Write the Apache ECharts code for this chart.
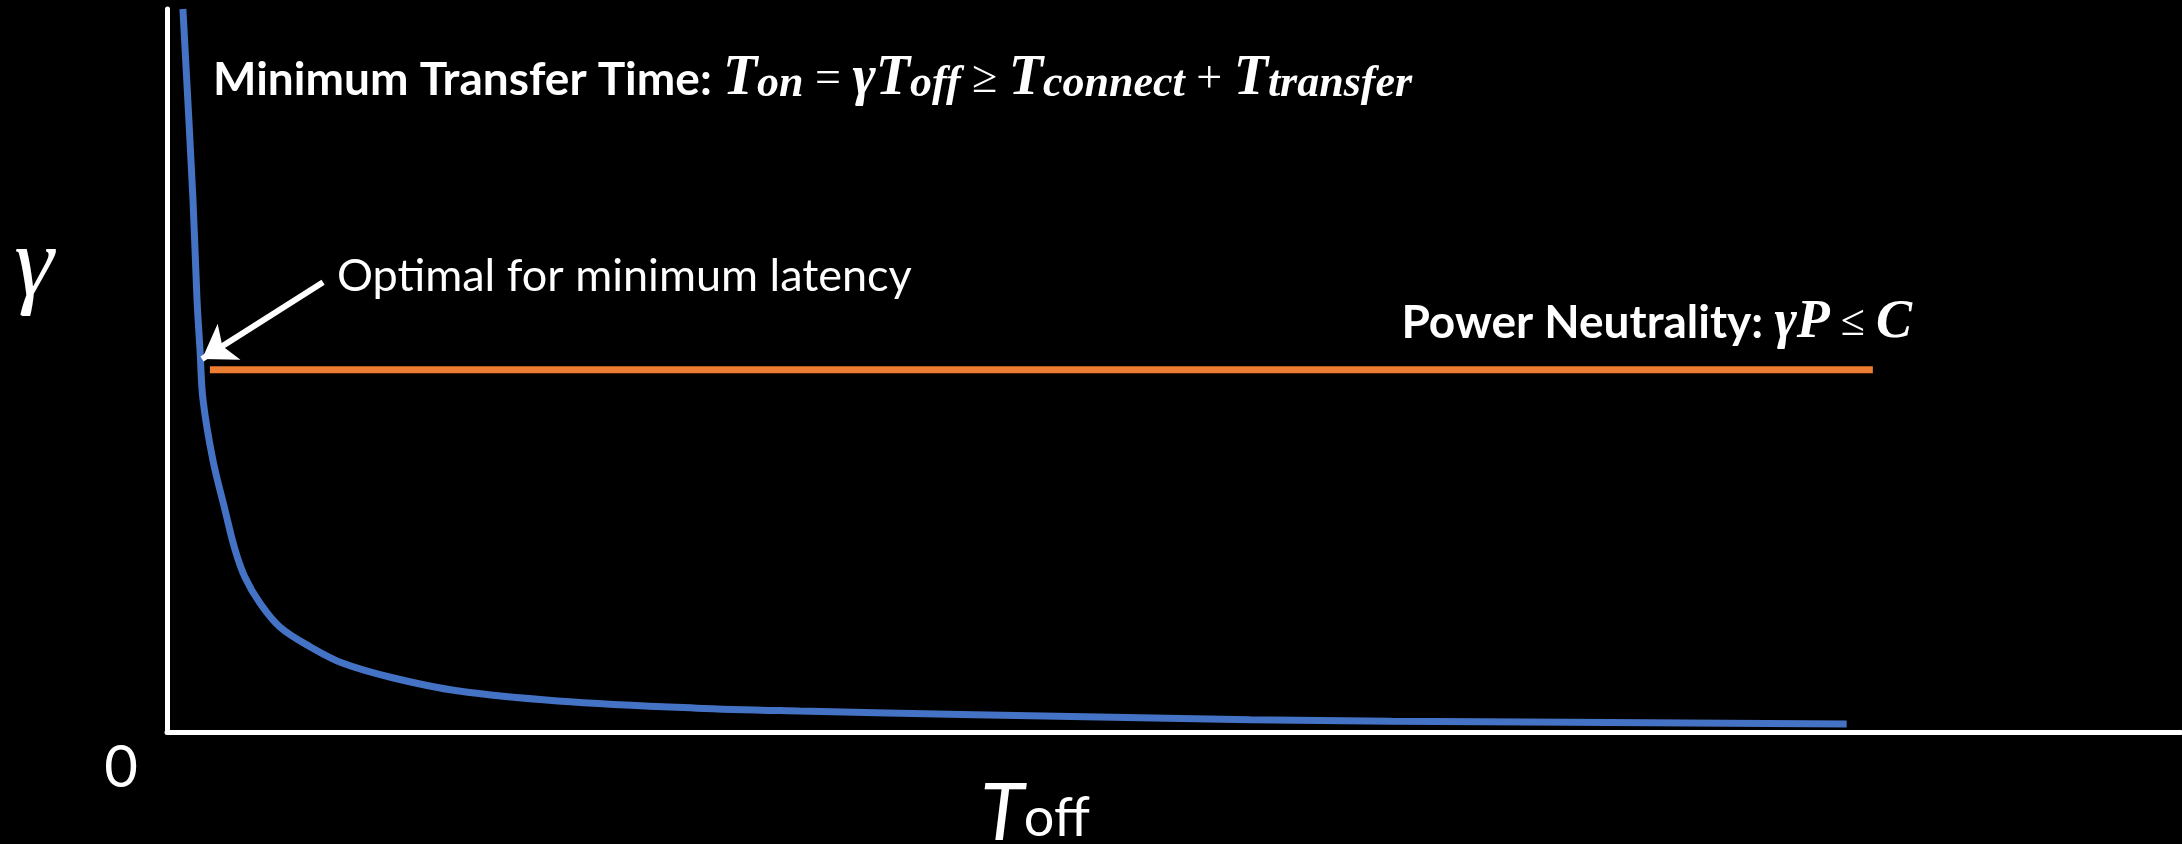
<!DOCTYPE html>
<html>
<head>
<meta charset="utf-8">
<script src="https://cdn.jsdelivr.net/npm/echarts@6/dist/echarts.min.js"></script>
<style>
  html, body { margin: 0; padding: 0; background: #000; }
  #chart { width: 2182px; height: 844px; }
</style>
</head>
<body>
<div id="chart"></div>
<script>
// ---- data ----
const curveToff = [0.79, 1.29, 1.49, 1.64, 1.79, 2.28, 2.88, 3.38, 3.87, 4.62, 5.61, 7.10, 8.74, 11.2, 14.4, 19.4, 26.3, 31.4, 40.1, 53.8, 60.8, 83.4];
const curveGamma = [100, 73.6, 59.8, 52.8, 45.9, 37.6, 30.7, 25.2, 21.4, 17.8, 14.5, 11.8, 9.5, 7.5, 5.7, 4.3, 3.3, 2.9, 2.4, 1.7, 1.5, 1.1];
const powerToff = [2.13, 84.7];
const powerGamma = [50.1, 50.1];
const tickLabels = ['0'];
const annotationText = 'Optimal for minimum latency';
const xAxisName = ['T', 'off'];
const yAxisName = 'γ';

const curveData = curveToff.map((x, i) => [x, curveGamma[i]]);
const powerData = powerToff.map((x, i) => [x, powerGamma[i]]);

const chart = echarts.init(document.getElementById('chart'), null, { renderer: 'canvas' });

const sansB = 'Lato';
const serif = 'Liberation Serif';

chart.setOption({
  backgroundColor: '#000',
  animation: false,
  grid: { left: 167, right: 1, top: 9, bottom: 112, containLabel: false },
  xAxis: {
    type: 'value', min: 0, max: 100,
    axisLine: { show: true, onZero: false, lineStyle: { color: '#fff', width: 5 } },
    axisTick: { show: false }, axisLabel: { show: false }, splitLine: { show: false }
  },
  yAxis: {
    type: 'value', min: 0, max: 100,
    axisLine: { show: true, onZero: false, lineStyle: { color: '#fff', width: 5 } },
    axisTick: { show: false }, axisLabel: { show: false }, splitLine: { show: false }
  },
  series: [
    {
      type: 'line', data: powerData, showSymbol: false, silent: true,
      lineStyle: { color: '#ED7D31', width: 7, cap: 'butt' }
    },
    {
      type: 'line', data: curveData, showSymbol: false, silent: true,
      smooth: 0.35, clip: true,
      lineStyle: { color: '#4472C4', width: 7, cap: 'butt' },
      markLine: {
        silent: true, animation: false,
        symbol: ['none', 'arrow'], symbolSize: [32, 32],
        lineStyle: { color: '#fff', width: 6, type: 'solid' },
        label: { show: false },
        data: [[{ coord: [7.75, 62.2] }, { coord: [1.74, 51.6] }]]
      }
    }
  ],
  graphic: [
    {
      type: 'text', x: 213, y: 80,
      style: {
        text: '{b|Minimum Transfer Time: }{m|T}{s|on}{o| = }{m|γT}{s|off}{o| ≥ }{m|T}{s|connect}{o| + }{m|T}{s|transfer}',
        fill: '#fff', verticalAlign: 'middle',
        rich: {
          b: { fontFamily: sansB, fontWeight: 'bold', fontSize: 46, fill: '#fff' },
          m: { fontFamily: serif, fontStyle: 'italic', fontWeight: 'bold', fontSize: 56, fill: '#fff' },
          s: { fontFamily: serif, fontStyle: 'italic', fontWeight: 'bold', fontSize: 44, fill: '#fff', padding: [10, 0, 0, 0] },
          o: { fontFamily: serif, fontWeight: 'normal', fontSize: 46, fill: '#fff' }
        }
      }
    },
    {
      type: 'text', x: 1912, y: 323,
      style: {
        text: '{b|Power Neutrality: }{m|γP}{o| ≤ }{m|C}',
        fill: '#fff', align: 'right', verticalAlign: 'middle',
        rich: {
          b: { fontFamily: sansB, fontWeight: 'bold', fontSize: 46, fill: '#fff' },
          m: { fontFamily: serif, fontStyle: 'italic', fontWeight: 'bold', fontSize: 54, fill: '#fff' },
          o: { fontFamily: serif, fontSize: 44, fill: '#fff' }
        }
      }
    },
    {
      type: 'text', x: 337, y: 276,
      style: { text: annotationText, fill: '#fff', fontFamily: 'Lato', fontSize: 45, verticalAlign: 'middle', align: 'left' }
    },
    {
      type: 'text', x: 34, y: 269,
      style: { text: yAxisName, fill: '#fff', fontFamily: serif, fontStyle: 'italic', fontSize: 100, align: 'center', verticalAlign: 'middle' }
    },
    {
      type: 'text', x: 121, y: 768,
      style: { text: tickLabels[0], fill: '#fff', fontFamily: 'Lato', fontSize: 58, align: 'center', verticalAlign: 'middle' }
    },
    {
      type: 'text', x: 1035, y: 814,
      style: {
        text: '{i|' + xAxisName[0] + '}{r|' + xAxisName[1] + '}',
        align: 'center', verticalAlign: 'middle', fill: '#fff',
        rich: {
          i: { fontFamily: 'Lato', fontStyle: 'italic', fontSize: 80, lineHeight: 58, fill: '#fff' },
          r: { fontFamily: 'Lato', fontSize: 54, lineHeight: 58, fill: '#fff', padding: [10, 0, 0, 0] }
        }
      }
    }
  ]
});
</script>
</body>
</html>
